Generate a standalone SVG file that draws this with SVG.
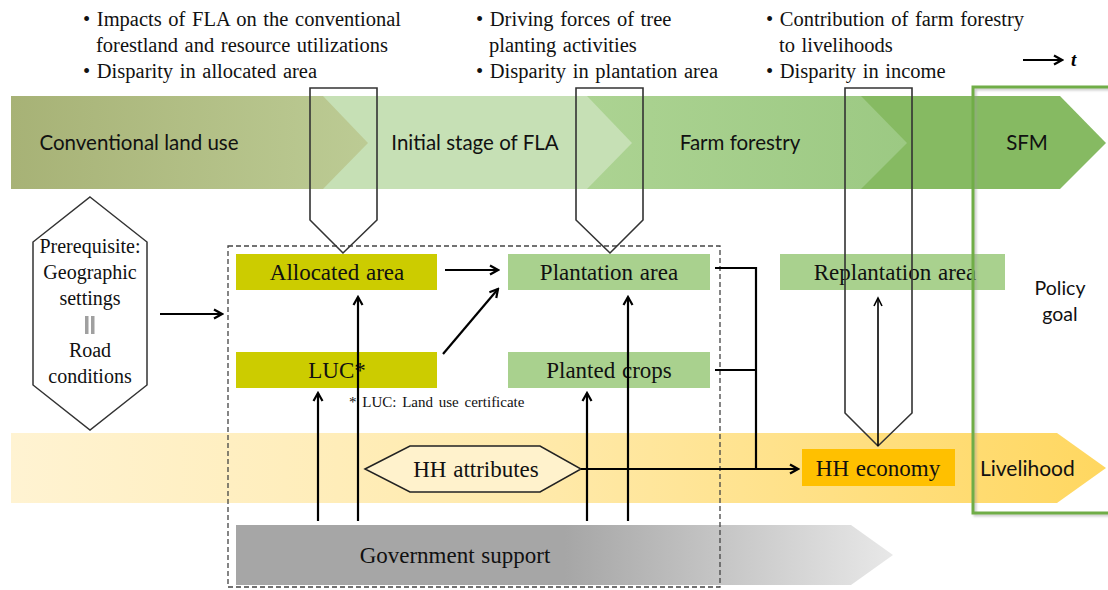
<svg xmlns="http://www.w3.org/2000/svg" width="1108" height="590" viewBox="0 0 1108 590">
  <defs>
    <linearGradient id="gConv" gradientUnits="userSpaceOnUse" x1="11" y1="0" x2="368" y2="0">
      <stop offset="0" stop-color="#a7b276"/>
      <stop offset="1" stop-color="#bccb94"/>
    </linearGradient>
    <linearGradient id="gFarm" gradientUnits="userSpaceOnUse" x1="587" y1="0" x2="907" y2="0">
      <stop offset="0" stop-color="#acd392"/>
      <stop offset="1" stop-color="#9cc983"/>
    </linearGradient>
    <linearGradient id="gLive" gradientUnits="userSpaceOnUse" x1="11" y1="0" x2="1106" y2="0">
      <stop offset="0" stop-color="#fff3d2"/>
      <stop offset="0.5" stop-color="#ffe9a8"/>
      <stop offset="1" stop-color="#ffd760"/>
    </linearGradient>
    <linearGradient id="gGov" gradientUnits="userSpaceOnUse" x1="236" y1="0" x2="893" y2="0">
      <stop offset="0" stop-color="#a6a6a6"/>
      <stop offset="0.5" stop-color="#a6a6a6"/>
      <stop offset="1" stop-color="#e8e8e8"/>
    </linearGradient>
    <marker id="arr" viewBox="0 0 12 12" markerWidth="12" markerHeight="12" refX="10" refY="6" orient="auto" markerUnits="userSpaceOnUse">
      <path d="M2,1.5 L10,6 L2,10.5" fill="none" stroke="#000" stroke-width="2.2" stroke-linejoin="miter"/>
    </marker>
    <marker id="arrThin" viewBox="0 0 12 12" markerWidth="12" markerHeight="12" refX="10" refY="6" orient="auto" markerUnits="userSpaceOnUse">
      <path d="M2,2 L10,6 L2,10" fill="none" stroke="#000" stroke-width="1.6"/>
    </marker>
    <filter id="soft" x="-5%" y="-5%" width="110%" height="110%">
      <feGaussianBlur stdDeviation="1.2"/>
    </filter>
  </defs>
  <style>
    .serif { font-family: "Liberation Serif", "Times New Roman", serif; fill: #111; }
    .sans { font-family: Lato, "Open Sans", sans-serif; fill: #111; }
    .box { stroke: none; }
    .callout { fill: none; stroke: #333; stroke-width: 1.6; }
    .conn { fill: none; stroke: #000; stroke-width: 2.2; }
    .lbl { font-size: 23px; text-anchor: middle; word-spacing: 1px; }
    .stage { font-size: 20.5px; text-anchor: middle; }
    .q { font-size: 20.5px; word-spacing: 1.5px; }
    .pre { font-size: 20px; text-anchor: middle; }
  </style>

  <!-- timeline band: stages drawn right to left so each point overlaps the next -->
  <g id="stages">
    <g id="stage-sfm">
      <polygon points="861,96 1060,96 1106,143 1060,189 861,189" fill="#86ba62"/>
      <text class="sans stage" x="1027" y="150">SFM</text>
    </g>
    <g id="stage-farm">
      <polygon points="587,96 861,96 907,143 861,189 587,189" fill="url(#gFarm)"/>
      <text class="sans stage" x="740" y="150">Farm forestry</text>
    </g>
    <g id="stage-initial">
      <polygon points="323,96 587,96 632,143 587,189 323,189" fill="#c6e0b5"/>
      <text class="sans stage" x="475" y="150">Initial stage of FLA</text>
    </g>
    <g id="stage-conv">
      <polygon points="11,96 323,96 368,143 323,189 11,189" fill="url(#gConv)"/>
      <text class="sans stage" x="139" y="150">Conventional land use</text>
    </g>
  </g>

  <!-- livelihood band -->
  <g id="livelihood">
    <polygon points="11,433 1057,433 1106,468 1057,503 11,503" fill="url(#gLive)"/>
    <text class="sans" x="980" y="476" font-size="21">Livelihood</text>
  </g>

  <!-- government support band -->
  <g id="gov-support">
    <polygon points="236,525 851,525 893,555 851,585 236,585" fill="url(#gGov)"/>
    <text class="serif lbl" x="455" y="563">Government support</text>
  </g>

  <!-- research questions -->
  <g id="questions-1">
    <text class="serif q" x="83" y="26">• Impacts of FLA on the conventional</text>
    <text class="serif q" x="96" y="52">forestland and resource utilizations</text>
    <text class="serif q" x="83" y="78">• Disparity in allocated area</text>
  </g>
  <g id="questions-2">
    <text class="serif q" x="476" y="26">• Driving forces of tree</text>
    <text class="serif q" x="489" y="52">planting activities</text>
    <text class="serif q" x="476" y="78">• Disparity in plantation area</text>
  </g>
  <g id="questions-3">
    <text class="serif q" x="766" y="26">• Contribution of farm forestry</text>
    <text class="serif q" x="779" y="52">to livelihoods</text>
    <text class="serif q" x="766" y="78">• Disparity in income</text>
  </g>
  <g id="time-axis">
    <line x1="1023" y1="60" x2="1062" y2="60" stroke="#000" stroke-width="2.2" marker-end="url(#arr)"/>
    <text x="1071" y="66" font-family="Liberation Serif, serif" font-size="19" font-weight="bold" font-style="italic">t</text>
  </g>

  <!-- scope of the study area -->
  <rect id="scope" x="228" y="246" width="492" height="341" fill="none" stroke="#444" stroke-width="1.3" stroke-dasharray="5,3"/>

  <!-- nodes -->
  <g id="prerequisite">
    <polygon points="90,197 147,242 147,385 90,430 33,385 33,242" fill="#fff" stroke="#333" stroke-width="1.5"/>
    <text class="serif pre" x="90" y="253">Prerequisite:</text>
    <text class="serif pre" x="90" y="279">Geographic</text>
    <text class="serif pre" x="90" y="305">settings</text>
    <rect x="85" y="316" width="3.5" height="18" fill="#a0a0a0"/>
    <rect x="91" y="316" width="3.5" height="18" fill="#a0a0a0"/>
    <text class="serif pre" x="90" y="357">Road</text>
    <text class="serif pre" x="90" y="383">conditions</text>
  </g>
  <g id="allocated-area">
    <rect class="box" x="236" y="254" width="201" height="36" fill="#cccc00"/>
    <text class="serif lbl" x="337" y="280">Allocated area</text>
  </g>
  <g id="luc">
    <rect class="box" x="236" y="352" width="201" height="36" fill="#cccc00"/>
    <text class="serif lbl" x="337" y="378">LUC*</text>
    <text class="serif" font-size="15" word-spacing="2" x="349" y="407">* LUC:  Land use certificate</text>
  </g>
  <g id="plantation-area">
    <rect class="box" x="508" y="254" width="202" height="36" fill="#a9d18e"/>
    <text class="serif lbl" x="609" y="280">Plantation area</text>
  </g>
  <g id="planted-crops">
    <rect class="box" x="508" y="352" width="202" height="36" fill="#a9d18e"/>
    <text class="serif lbl" x="609" y="378">Planted crops</text>
  </g>
  <g id="replantation-area">
    <rect class="box" x="780" y="254" width="225" height="36" fill="#a9d18e"/>
    <text class="serif lbl" x="895" y="280">Replantation area</text>
  </g>
  <g id="hh-attributes">
    <polygon points="365,469 410,446 540,446 581,469 540,492 410,492" fill="#fff2cc" stroke="#222" stroke-width="1.5"/>
    <text class="serif lbl" x="476" y="477">HH attributes</text>
  </g>
  <g id="hh-economy">
    <rect class="box" x="802" y="449" width="153" height="37" fill="#ffc000"/>
    <text class="serif lbl" x="878" y="476">HH economy</text>
  </g>

  <!-- research focus callouts pointing into the framework -->
  <g id="callouts">
    <polygon class="callout" points="310,88 377,88 377,220 343,253 310,220"/>
    <polygon class="callout" points="576,88 643,88 643,220 610,253 576,220"/>
    <polygon class="callout" points="845,88 912,88 912,413 878,446 845,413"/>
  </g>

  <!-- connectors -->
  <g id="connectors">
    <line class="conn" x1="160" y1="314" x2="222" y2="314" marker-end="url(#arr)"/>
    <line class="conn" x1="445" y1="270" x2="498" y2="270" marker-end="url(#arr)"/>
    <line class="conn" x1="443" y1="354" x2="498" y2="289" marker-end="url(#arr)"/>
    <line class="conn" x1="358" y1="521" x2="358" y2="297" marker-end="url(#arr)"/>
    <line class="conn" x1="318" y1="521" x2="318" y2="393" marker-end="url(#arr)"/>
    <line class="conn" x1="628" y1="521" x2="628" y2="297" marker-end="url(#arr)"/>
    <line class="conn" x1="587" y1="521" x2="587" y2="393" marker-end="url(#arr)"/>
    <polyline class="conn" points="715,268 756,268 756,469"/>
    <line class="conn" x1="715" y1="370" x2="756" y2="370"/>
    <line class="conn" x1="581" y1="469" x2="798" y2="469" marker-end="url(#arr)"/>
    <line x1="878" y1="446" x2="878" y2="298" stroke="#000" stroke-width="1.6" marker-end="url(#arrThin)"/>
  </g>

  <!-- policy goal frame -->
  <g id="policy-goal">
    <rect x="975" y="89" width="140" height="426" fill="none" stroke="#999" stroke-width="3" opacity="0.5" filter="url(#soft)"/>
    <rect x="973" y="87" width="140" height="426" fill="none" stroke="#70ad47" stroke-width="3"/>
    <text class="sans" font-size="19.5" text-anchor="middle" x="1060" y="295">Policy</text>
    <text class="sans" font-size="19.5" text-anchor="middle" x="1060" y="321">goal</text>
  </g>
</svg>
